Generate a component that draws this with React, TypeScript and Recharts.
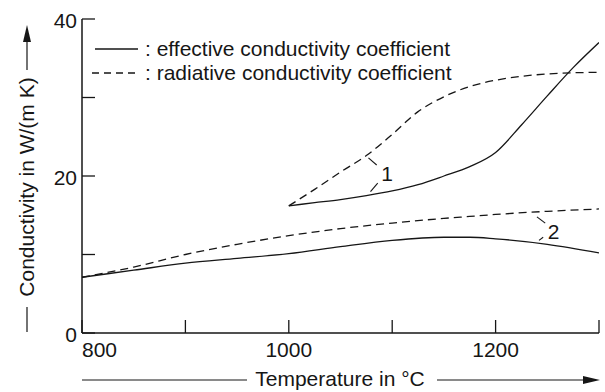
import React from 'react';
import {
  LineChart,
  Line,
  XAxis,
  YAxis,
  ReferenceLine,
  ReferenceDot,
} from 'recharts';

// temperatures (°C) and conductivities in W/(m K)
const tempsLow = [800, 850, 900, 950, 1000, 1050, 1100, 1150, 1175, 1200, 1250, 1300];
const effectiveLow = [7.1, 8.0, 8.9, 9.5, 10.1, 11.0, 11.8, 12.2, 12.2, 12.0, 11.3, 10.2];
const radiativeLow = [7.1, 8.4, 10.0, 11.3, 12.4, 13.3, 14.0, 14.6, 14.85, 15.1, 15.5, 15.8];

const tempsHigh = [1000, 1025, 1050, 1075, 1100, 1125, 1150, 1175, 1200, 1225, 1250, 1275, 1300];
const effectiveHigh = [16.2, 16.6, 17.0, 17.5, 18.1, 18.9, 20.0, 21.2, 23.0, 26.5, 30.2, 33.8, 37.0];
const radiativeHigh = [16.2, 18.3, 20.5, 22.6, 25.3, 28.2, 30.1, 31.4, 32.2, 32.7, 33.0, 33.15, 33.2];

const xTicks = [800, 900, 1000, 1100, 1200, 1300];
const xLabels = [800, 1000, 1200];
const topTicks = [900, 1000, 1100, 1200];
const yTicks = [0, 10, 20, 30, 40];
const yLabels = [0, 20, 40];
const rightTicks = [10, 20, 30];

// curve labels "1" and "2" with their little leader strokes (data coords)
const curveLabels = [
  { name: '1', t: 1095, v: 20.3 },
  { name: '2', t: 1256, v: 12.9 },
];
const leaders = [
  [[1077, 22.3], [1085, 21.4]],
  [[1079, 18.0], [1086, 19.1]],
  [[1240, 14.8], [1248, 14.0]],
  [[1242, 11.8], [1246, 12.2]],
];

const toRows = (temps: number[], vals: number[]) =>
  temps.map((t, i) => ({ t, v: vals[i] }));

const FONT = '"Liberation Sans", Arial, sans-serif';
const INK = '#161616';

const XTick = (props: any) => {
  const { x, y, payload } = props;
  if (!xLabels.includes(payload.value)) return <g />;
  return (
    <text
      x={x}
      y={y}
      dy="0.71em"
      textAnchor={payload.value === 800 ? 'start' : 'middle'}
      fontSize={21}
      fontFamily={FONT}
      fill={INK}
    >
      {payload.value}
    </text>
  );
};

const YTick = (props: any) => {
  const { x, y, payload } = props;
  if (!yLabels.includes(payload.value)) return <g />;
  return (
    <text x={x} y={y} dy="0.42em" textAnchor="end" fontSize={21} fontFamily={FONT} fill={INK}>
      {payload.value}
    </text>
  );
};

const NoTick = () => <g />;

const App: React.FC = () => {
  const axisLine = { stroke: INK, strokeWidth: 1.5 };
  const tickLine = { stroke: INK, strokeWidth: 1.3 };

  return (
    <div style={{ position: 'absolute', left: 0, top: 0, width: 605, height: 392, background: '#fff' }}>
      <LineChart width={605} height={392} margin={{ top: 19, right: 6, left: 22, bottom: 29 }}>
        <XAxis
          dataKey="t"
          type="number"
          domain={[800, 1300]}
          ticks={xTicks}
          allowDataOverflow
          height={30}
          tickSize={-13}
          tickMargin={22}
          axisLine={axisLine}
          tickLine={tickLine}
          tick={<XTick />}
        />
        <XAxis
          xAxisId="top"
          orientation="top"
          type="number"
          domain={[800, 1300]}
          ticks={topTicks}
          height={0}
          tickSize={-13}
          axisLine={axisLine}
          tickLine={tickLine}
          tick={<NoTick />}
        />
        <YAxis
          type="number"
          domain={[0, 40]}
          ticks={yTicks}
          width={60}
          tickSize={-13}
          tickMargin={18}
          axisLine={axisLine}
          tickLine={tickLine}
          tick={<YTick />}
        />
        <YAxis
          yAxisId="right"
          orientation="right"
          type="number"
          domain={[0, 40]}
          ticks={rightTicks}
          width={0}
          tickSize={-8}
          axisLine={axisLine}
          tickLine={tickLine}
          tick={<NoTick />}
        />

        <Line data={toRows(tempsLow, radiativeLow)} dataKey="v" type="monotone" stroke={INK} strokeWidth={1.3}
          strokeDasharray="8 5" dot={false} isAnimationActive={false} />
        <Line data={toRows(tempsLow, effectiveLow)} dataKey="v" type="monotone" stroke={INK} strokeWidth={1.3}
          dot={false} isAnimationActive={false} />
        <Line data={toRows(tempsHigh, radiativeHigh)} dataKey="v" type="monotone" stroke={INK} strokeWidth={1.3}
          strokeDasharray="8 5" dot={false} isAnimationActive={false} />
        <Line data={toRows(tempsHigh, effectiveHigh)} dataKey="v" type="monotone" stroke={INK} strokeWidth={1.3}
          dot={false} isAnimationActive={false} />

        {leaders.map((seg, i) => (
          <ReferenceLine
            key={`lead-${i}`}
            segment={[{ x: seg[0][0], y: seg[0][1] }, { x: seg[1][0], y: seg[1][1] }]}
            stroke={INK}
            strokeWidth={1.1}
          />
        ))}
        {curveLabels.map(l => (
          <ReferenceDot
            key={`lab-${l.name}`}
            x={l.t}
            y={l.v}
            r={0}
            fill="none"
            stroke="none"
            label={{ value: l.name, position: 'center', fontSize: 21, fontFamily: FONT, fill: INK }}
          />
        ))}
      </LineChart>

      {/* legend and axis titles */}
      <svg width={605} height={392} style={{ position: 'absolute', left: 0, top: 0, pointerEvents: 'none' }}>
        <g fontFamily={FONT} fontSize={21} fill={INK}>
          <line x1={95} y1={49} x2={138} y2={49} stroke={INK} strokeWidth={1.4} />
          <text x={145} y={56}>: effective conductivity coefficient</text>
          <line x1={92} y1={73} x2={138} y2={73} stroke={INK} strokeWidth={1.4} strokeDasharray="7 5" />
          <text x={145} y={80}>: radiative conductivity coefficient</text>

          <line x1={82} y1={380} x2={247} y2={380} stroke={INK} strokeWidth={1.2} />
          <text x={340} y={386} textAnchor="middle">Temperature in °C</text>
          <line x1={437} y1={380} x2={590} y2={380} stroke={INK} strokeWidth={1.2} />
          <polygon points="583,376 600,380 583,384" fill={INK} />

          <text x={0} y={0} transform="translate(34,187) rotate(-90)" textAnchor="middle">
            Conductivity in W/(m K)
          </text>
          <line x1={27} y1={307} x2={27} y2={332} stroke={INK} strokeWidth={1.2} />
          <line x1={27} y1={38} x2={27} y2={70} stroke={INK} strokeWidth={1.2} />
          <polygon points="23,42 27,25 31,42" fill={INK} />
        </g>
      </svg>
    </div>
  );
};

export default App;
